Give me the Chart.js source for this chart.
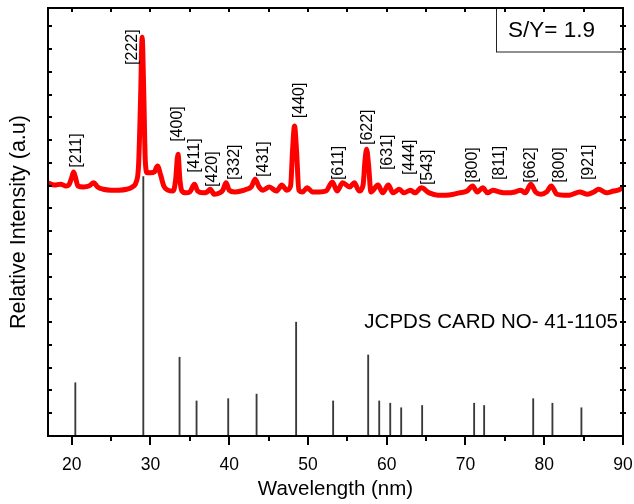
<!DOCTYPE html>
<html lang="en">
<head>
<meta charset="UTF-8">
<title>XRD pattern</title>
<script src="https://cdn.jsdelivr.net/npm/chart.js"></script>
<style>
    body, html { margin: 0; padding: 0; background: #fff; }
    #wrap { width: 634px; height: 504px; }
</style>
</head>
<body>
<div id="wrap"><canvas id="xrd"></canvas></div>
<script>
// measured pattern (red curve)
const wavelength = [17.0, 17.8, 18.6, 19.3, 19.7, 20.0, 20.25, 20.5, 20.8, 21.5, 22.2, 22.8, 23.3, 24.0, 25.0, 26.0, 27.0, 27.7, 28.2, 28.5,
    28.75, 28.95, 29.15, 29.35, 29.6, 30.0, 30.5, 30.9, 31.3, 31.7, 32.2, 32.9, 33.2, 33.5, 33.75, 34.0, 34.5, 35.0, 35.6, 36.0,
    36.7, 37.2, 37.6, 38.1, 38.8, 39.2, 39.6, 40.0, 40.7, 41.5, 42.2, 42.8, 43.3, 43.8, 44.3, 45.1, 46.0, 46.7, 47.3, 47.8,
    48.05, 48.3, 48.55, 48.85, 49.3, 49.9, 50.6, 51.5, 52.3, 53.1, 53.7, 54.4, 55.3, 55.9, 56.5, 57.0, 57.25, 57.45, 57.7, 58.0,
    58.9, 59.5, 60.2, 60.8, 61.6, 62.2, 63.0, 63.6, 64.4, 65.4, 66.5, 67.5, 68.5, 69.2, 70.2, 70.9, 71.5, 72.2, 72.8, 73.5,
    74.3, 75.2, 76.3, 77.0, 77.6, 78.3, 78.9, 79.6, 80.3, 80.9, 81.6, 82.5, 83.2, 84.5, 85.5, 86.3, 86.9, 87.9, 88.8, 89.4, 90.0];
const intensity = [556, 551, 553, 549, 553, 567, 580, 567, 549, 547, 549, 556, 547, 542, 540, 540, 542, 547, 558, 595,
    738, 876, 760, 606, 578, 578, 580, 593, 573, 549, 540, 538, 562, 619, 562, 538, 534, 536, 553, 538,
    534, 536, 542, 531, 534, 540, 556, 540, 536, 538, 542, 547, 564, 547, 540, 547, 538, 551, 540, 549,
    628, 681, 628, 540, 536, 545, 536, 536, 538, 558, 538, 556, 547, 556, 538, 551, 606, 630, 595, 536,
    551, 534, 551, 534, 542, 534, 540, 534, 545, 534, 529, 529, 531, 534, 538, 549, 536, 545, 534, 540,
    536, 534, 536, 540, 534, 553, 536, 531, 536, 549, 531, 529, 529, 536, 531, 536, 542, 534, 538, 540, 545];

// JCPDS 41-1105 reference lines
const cardPos = [20.47, 29.1, 33.7, 35.86, 39.88, 43.48, 48.5, 53.2, 57.65, 59.05, 60.45, 61.84, 64.5, 71.1, 72.37, 78.6, 81.04, 84.72];
const cardInt = [117, 570, 173, 77, 82, 92, 250, 77, 178, 77, 72, 62, 67, 72, 67, 82, 72, 62];

// peak labels
const peakLabels = ['[211]', '[222]', '[400]', '[411]', '[420]', '[332]', '[431]', '[440]', '[611]',
    '[622]', '[631]', '[444]', '[543]', '[800]', '[811]', '[662]', '[800]', '[921]'];
const peakLabelPos = [20.5, 27.65, 33.3, 35.5, 37.8, 40.55, 44.2, 48.8, 53.8, 57.5, 60.0, 62.8, 65.1, 70.8, 74.2, 78.2, 81.8, 85.5];
const peakLabelBase = [589, 815, 646, 578, 547, 562, 569, 698, 562, 639, 584, 573, 551, 556, 562, 556, 556, 562];

const xTicks = [20, 30, 40, 50, 60, 70, 80, 90];
const xMinorStep = 5;
const yTickStep = 50;

const FONT = "'Liberation Sans', Arial, sans-serif";

const framePlugin = {
    id: 'frame',
    afterDatasetsDraw(chart) {
        const { ctx, chartArea: a, scales: { x, y } } = chart;
        ctx.save();

        // peak labels, rotated
        ctx.fillStyle = '#000';
        ctx.font = '16px ' + FONT;
        ctx.textAlign = 'left';
        ctx.textBaseline = 'middle';
        peakLabels.forEach((t, i) => {
            ctx.save();
            ctx.translate(x.getPixelForValue(peakLabelPos[i]), y.getPixelForValue(peakLabelBase[i]));
            ctx.rotate(-Math.PI / 2);
            ctx.fillText(t, 0, 1);
            ctx.restore();
        });

        // card text
        ctx.font = '20.5px ' + FONT;
        ctx.textAlign = 'right';
        ctx.textBaseline = 'alphabetic';
        ctx.fillText('JCPDS CARD NO- 41-1105', a.right - 5, a.bottom - 108);

        // S/Y box
        ctx.strokeStyle = '#222';
        ctx.lineWidth = 1;
        ctx.strokeRect(a.right - 126.5, a.top + 0.5, 126, 43.5);
        ctx.font = '22.5px ' + FONT;
        ctx.textAlign = 'left';
        ctx.fillText('S/Y= 1.9', a.right - 115, a.top + 29);

        // tick marks
        ctx.strokeStyle = '#000';
        ctx.lineWidth = 2;
        ctx.beginPath();
        for (let v = Math.ceil(x.min / xMinorStep) * xMinorStep; v <= x.max; v += xMinorStep) {
            const px = Math.round(x.getPixelForValue(v));
            const len = xTicks.includes(v) ? 9 : 5;
            ctx.moveTo(px, a.bottom);
            ctx.lineTo(px, a.bottom + len);
            ctx.moveTo(px, a.top);
            ctx.lineTo(px, a.top + 4);
        }
        for (let v = yTickStep; v < y.max; v += yTickStep) {
            const py = Math.round(y.getPixelForValue(v));
            ctx.moveTo(a.left, py);
            ctx.lineTo(a.left + 4, py);
            ctx.moveTo(a.right - 3, py);
            ctx.lineTo(a.right + 3, py);
        }
        ctx.stroke();

        // frame
        ctx.strokeRect(a.left, a.top, a.right - a.left, a.bottom - a.top);
        ctx.restore();
    }
};

new Chart(document.getElementById('xrd'), {
    type: 'line',
    data: {
        datasets: [{
            data: wavelength.map((w, i) => ({ x: w, y: intensity[i] })),
            borderColor: '#ff0000',
            borderWidth: 5,
            pointRadius: 0,
            cubicInterpolationMode: 'monotone',
            fill: false
        }, {
            type: 'bar',
            data: cardPos.map((w, i) => ({ x: w, y: cardInt[i] })),
            backgroundColor: '#3a3a3a',
            barThickness: 1.2,
            borderWidth: 0
        }]
    },
    plugins: [framePlugin],
    options: {
        responsive: true,
        maintainAspectRatio: false,
        animation: false,
        layout: { padding: { top: 8, right: 11, left: 0, bottom: 0 } },
        plugins: { legend: { display: false }, tooltip: { enabled: false } },
        scales: {
            x: {
                type: 'linear',
                min: 17,
                max: 90,
                offset: false,
                border: { display: false },
                grid: { display: false },
                afterBuildTicks: s => { s.ticks = xTicks.map(v => ({ value: v })); },
                afterFit: s => { s.height = 68; s.paddingLeft = 0; s.paddingRight = 0; },
                ticks: {
                    color: '#000',
                    padding: 11,
                    maxRotation: 0,
                    font: { family: FONT, size: 17.5 }
                },
                title: {
                    display: true,
                    text: 'Wavelength (nm)',
                    color: '#000',
                    padding: { top: 0, bottom: 2 },
                    font: { family: FONT, size: 20.5 }
                }
            },
            y: {
                min: 0,
                max: 940,
                border: { display: false },
                grid: { display: false },
                afterFit: s => { s.width = 48; s.paddingTop = 0; s.paddingBottom = 0; },
                ticks: { display: false },
                title: {
                    display: true,
                    text: 'Relative Intensity (a.u)',
                    color: '#000',
                    padding: { top: 6, bottom: 0 },
                    font: { family: FONT, size: 21.5 }
                }
            }
        }
    }
});
</script>
</body>
</html>
